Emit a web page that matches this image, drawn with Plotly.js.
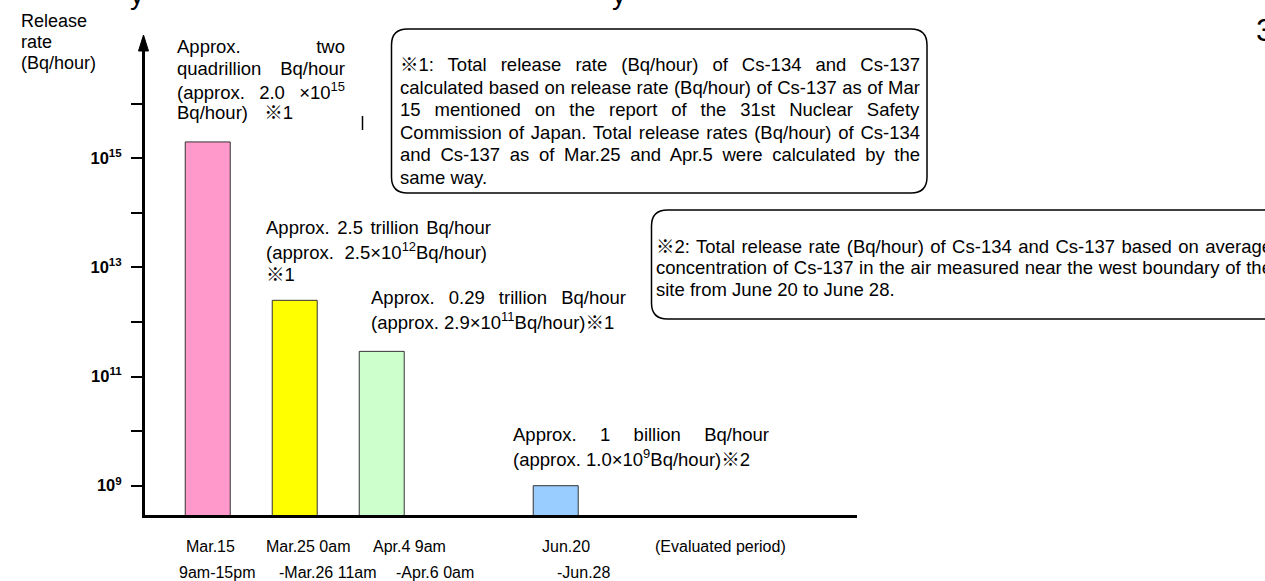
<!DOCTYPE html>
<html>
<head>
<meta charset="utf-8">
<script src="https://cdn.plot.ly/plotly-3.0.1.min.js"></script>
<style>
  html, body { margin: 0; padding: 0; background: #ffffff; overflow: hidden; }
  #chart { position: absolute; left: 0; top: 0; width: 1265px; height: 581px; }
</style>
</head>
<body>
<div id="chart"></div>
<script>
// ---------------- DATA ----------------
const categorySlots = ['Mar.15', 'Mar.25', 'Apr.4', ' ', 'Jun.20'];
const periods = ['Mar.15', 'Mar.25', 'Apr.4', 'Jun.20'];
const releaseRates = [2.0e15, 2.5e12, 2.9e11, 1.0e9];
const periodStartLabels = ['Mar.15', 'Mar.25 0am', 'Apr.4 9am', 'Jun.20', '(Evaluated period)'];
const periodEndLabels = ['9am-15pm', '-Mar.26 11am', '-Apr.6 0am', '-Jun.28'];
const yTickValues = [1e9, 1e10, 1e11, 1e12, 1e13, 1e14, 1e15, 1e16];
const yTickLabels = ['10<sup>9</sup>', ' ', '10<sup>11</sup>', ' ', '10<sup>13</sup>', ' ', '10<sup>15</sup>', ' '];
const yTitleLines = ['Release', 'rate', '(Bq/hour)'];
const noteMar15 = ['Approx. two', 'quadrillion Bq/hour', '(approx. 2.0 \u00d710<sup>15</sup>', 'Bq/hour) \u203b1'];
const noteMar25 = ['Approx. 2.5 trillion Bq/hour', '(approx. 2.5\u00d710<sup>12</sup>Bq/hour)', '\u203b1'];
const noteApr4 = ['Approx. 0.29 trillion Bq/hour', '(approx. 2.9\u00d710<sup>11</sup>Bq/hour)\u203b1'];
const noteJun20 = ['Approx. 1 billion Bq/hour', '(approx. 1.0\u00d710<sup>9</sup>Bq/hour)\u203b2'];
const footnote1 = [
  '\u203b1: Total release rate (Bq/hour) of Cs-134 and Cs-137',
  'calculated based on release rate (Bq/hour) of Cs-137 as of Mar',
  '15 mentioned on the report of the 31st Nuclear Safety',
  'Commission of Japan. Total release rates (Bq/hour) of Cs-134',
  'and Cs-137 as of Mar.25 and Apr.5 were calculated by the',
  'same way.'
];
const footnote2 = [
  '\u203b2: Total release rate (Bq/hour) of Cs-134 and Cs-137 based on average',
  'concentration of Cs-137 in the air measured near the west boundary of the',
  'site from June 20 to June 28.'
];
const pageNumber = '3';

// ---------------- STYLE / LAYOUT ----------------
const FONT = 'Liberation Sans, Arial, Noto Sans CJK JP, sans-serif';
const barColors = ['#FF99CC', '#FFFF00', '#CCFFCC', '#99CCFF'];
const L = 145, R = 857, T = 38, B = 515.2;
const PW = R - L, PH = B - T;
const px = p => (p - L) / PW;
const py = p => (B - p) / PH;

const annotations = [];
const justify = {};
function addBlock(lines, left, ys, size, targets) {
  lines.forEach((t, i) => {
    justify[annotations.length] = targets ? targets[i] : null;
    annotations.push({
      xref: 'paper', yref: 'paper', x: px(left), y: py(ys[i]),
      xanchor: 'left', yanchor: 'middle', align: 'left', showarrow: false,
      text: t, font: { family: FONT, size: size, color: '#000' }
    });
  });
}
addBlock(yTitleLines, 19, [21, 42, 63], 18);
addBlock(noteMar15, 175, [47, 69, 91, 113], 18.5, [345, 345, 345, 293]);
addBlock(noteMar25, 264, [228, 251.5, 275], 18.5, [491, 487, null]);
addBlock(noteApr4, 369, [298, 321], 18.5, [626, null]);
addBlock(noteJun20, 511, [435, 458], 18.5, [769, null]);
addBlock(footnote1, 398, [65, 87.5, 110, 132.5, 155, 177.5], 18.5, [920, 920, 920, 920, 920, null]);
addBlock(footnote2, 654, [246.7, 268, 289.5], 18.5, [1272, 1272, null]);
const row1Left = [184, 264, 371, 540, 653];
const row2Left = [177, 277, 394, 555];
periodStartLabels.forEach((t, i) => addBlock([t], row1Left[i], [547], 16));
periodEndLabels.forEach((t, i) => addBlock([t], row2Left[i], [573], 16));
addBlock([pageNumber], 1254, [30], 32);
addBlock(['y'], 128, [-6], 28);
addBlock(['y'], 610, [-6], 28);

function roundRect(x0, y0, x1, y1, r) {
  const X0 = px(x0), X1 = px(x1), Y0 = py(y0), Y1 = py(y1);
  const rx = r / PW, ry = r / PH;
  return `M ${X0 + rx},${Y0} L ${X1 - rx},${Y0} Q ${X1},${Y0} ${X1},${Y0 - ry} ` +
         `L ${X1},${Y1 + ry} Q ${X1},${Y1} ${X1 - rx},${Y1} L ${X0 + rx},${Y1} ` +
         `Q ${X0},${Y1} ${X0},${Y1 + ry} L ${X0},${Y0 - ry} Q ${X0},${Y0} ${X0 + rx},${Y0} Z`;
}

const shapes = [
  { type: 'path', xref: 'paper', yref: 'paper', path: roundRect(391.5, 29, 927, 193, 16),
    line: { color: '#000', width: 1.5 }, fillcolor: 'rgba(0,0,0,0)' },
  { type: 'path', xref: 'paper', yref: 'paper', path: roundRect(651.5, 210, 1300, 319, 16),
    line: { color: '#000', width: 1.5 }, fillcolor: 'rgba(0,0,0,0)' },
  { type: 'path', xref: 'paper', yref: 'paper',
    path: `M ${px(143.5)},${py(35)} L ${px(148.5)},${py(51)} L ${px(138.5)},${py(51)} Z`,
    line: { color: '#000', width: 1 }, fillcolor: '#000' },
  { type: 'line', xref: 'paper', yref: 'paper', x0: px(362.5), x1: px(362.5), y0: py(116), y1: py(130),
    line: { color: '#000', width: 1.5 } }
];

const data = [{
  type: 'bar',
  x: periods,
  y: releaseRates,
  width: 0.517,
  marker: { color: barColors, line: { color: '#333333', width: 1 } },
  hoverinfo: 'x+y'
}];

const layout = {
  width: 1265, height: 581,
  margin: { l: L, r: 1265 - R, t: T, b: 581 - B, pad: 0 },
  paper_bgcolor: '#ffffff', plot_bgcolor: '#ffffff',
  showlegend: false,
  xaxis: {
    type: 'category', categoryorder: 'array', categoryarray: categorySlots,
    range: [-0.721, 7.463], showticklabels: false, ticks: '',
    showline: true, linewidth: 3, linecolor: '#000', showgrid: false, zeroline: false, fixedrange: true
  },
  yaxis: {
    type: 'log', range: [8.463, 17.206],
    tickmode: 'array', tickvals: yTickValues, ticktext: yTickLabels,
    ticks: 'outside', ticklen: 11, tickwidth: 2, tickcolor: '#000', ticklabelstandoff: 6,
    tickfont: { family: FONT, size: 16.5, color: '#000', weight: 'bold' },
    showline: true, linewidth: 3, linecolor: '#000', showgrid: false, zeroline: false, fixedrange: true
  },
  annotations: annotations,
  shapes: shapes
};

Plotly.newPlot('chart', data, layout, { displayModeBar: false, staticPlot: true }).then(gd => {
  gd.querySelectorAll('.annotation').forEach(g => {
    const idx = +g.getAttribute('data-index');
    const target = justify[idx];
    if (!target) return;
    const t = g.querySelector('text.annotation-text');
    if (!t) return;
    const rect = t.getBoundingClientRect();
    const spaces = (t.textContent.match(/[ \u00a0]/g) || []).length;
    if (!spaces) return;
    const ws = (target - (rect.left + rect.width)) / spaces;
    t.style.wordSpacing = ws.toFixed(2) + 'px';
  });
});
</script>
</body>
</html>
